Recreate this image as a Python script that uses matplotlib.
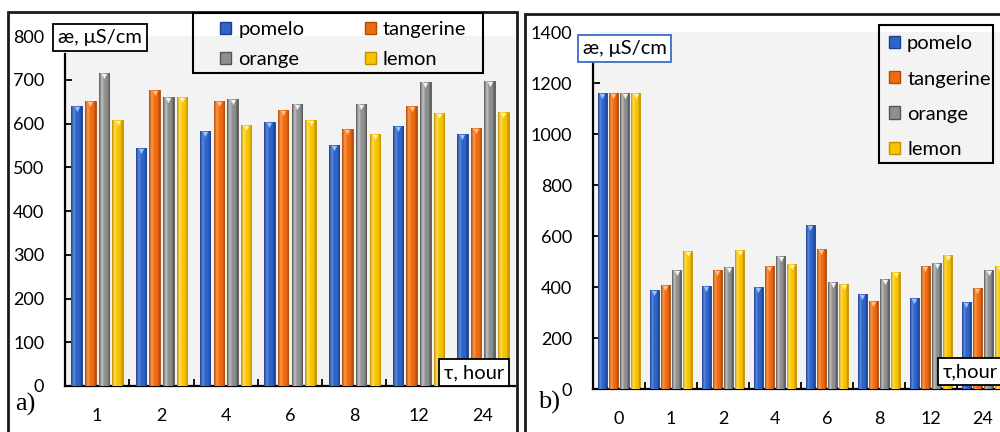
import matplotlib.pyplot as plt
import matplotlib.transforms as mtransforms
import numpy as np
from matplotlib.colors import LinearSegmentedColormap
from matplotlib.patches import Patch, Rectangle

plt.rcParams['font.family'] = ['Lato', 'DejaVu Sans']
plt.rcParams['font.size'] = 13

fruits = ['pomelo', 'tangerine', 'orange', 'lemon']

# conductivity, uS/cm
hours_a = ['1', '2', '4', '6', '8', '12', '24']
pomelo_a = [640, 545, 584, 604, 552, 594, 575]
tangerine_a = [652, 676, 652, 632, 587, 639, 590]
orange_a = [715, 660, 655, 644, 644, 694, 697]
lemon_a = [607, 660, 597, 607, 577, 625, 627]

hours_b = ['0', '1', '2', '4', '6', '8', '12', '24']
pomelo_b = [1160, 390, 404, 400, 645, 371, 356, 341]
tangerine_b = [1160, 409, 465, 481, 551, 347, 481, 397]
orange_b = [1160, 465, 477, 521, 420, 433, 494, 465]
lemon_b = [1160, 543, 547, 490, 413, 460, 526, 483]

base = ['#2f64c8', '#ef6b12', '#8f8f8f', '#f7c400']
dark = ['#1b3f8c', '#b04a06', '#555555', '#c28f00']
light = ['#5b8ae0', '#f99a4c', '#c4c4c4', '#ffe05a']
tip = ['#9fc0f5', '#ffc08a', '#f2f2f2', '#fff2a8']

BIG = 14.5

fig = plt.figure(figsize=(10, 4.32), dpi=100)


def shade_bars(ax, bars, k):
    cmap = LinearSegmentedColormap.from_list(
        'b%d' % k, [dark[k], light[k], base[k], base[k], dark[k]])
    grad = np.linspace(0, 1, 64).reshape(1, -1)
    for b in bars:
        x, w, h = b.get_x(), b.get_width(), b.get_height()
        im = ax.imshow(grad, cmap=cmap, extent=[x, x + w, 0, h],
                       aspect='auto', zorder=3, interpolation='bilinear')
        im.set_clip_path(b)


def panel(rect, hours, series, ymax, ystep, spine_top):
    ax = fig.add_axes(rect)
    ax.set_facecolor('#f3f3f3')
    x = np.arange(len(hours))
    pitch, width = 0.213, 0.163
    # little bevel triangle just under each bar top
    down = ax.transData + mtransforms.ScaledTranslation(0, -3 / 100,
                                                        fig.dpi_scale_trans)
    for k, vals in enumerate(series):
        xs = x + (k - 1.5) * pitch
        bars = ax.bar(xs, vals, width, color=base[k],
                      edgecolor=dark[k], linewidth=0.6, zorder=2)
        shade_bars(ax, bars, k)
        ax.scatter(xs, vals, marker='v', s=14, color=tip[k], linewidths=0,
                   zorder=4, transform=down)
    ax.set_xlim(-0.5, len(hours) - 0.5)
    ax.set_ylim(0, ymax)
    ax.set_yticks(np.arange(0, ymax + 1, ystep))
    ax.set_xticks(x)
    ax.set_xticklabels(hours)
    ax.set_xticks(np.arange(0.5, len(hours) - 0.5), minor=True)
    ax.tick_params(axis='x', which='major', length=0, pad=16)
    ax.tick_params(axis='x', which='minor', direction='in', length=5, width=1.3)
    ax.tick_params(axis='y', direction='in', length=5, width=1.3, pad=15)
    # top tick sits above the shortened spine
    ax.yaxis.get_major_ticks()[-1].tick1line.set_visible(False)
    for s in ['top', 'right']:
        ax.spines[s].set_visible(False)
    ax.spines['left'].set_linewidth(1.6)
    ax.spines['bottom'].set_linewidth(1.6)
    ax.spines['left'].set_bounds(0, spine_top)
    return ax


panel([0.065, 0.1065, 0.45, 0.810], hours_a,
      [pomelo_a, tangerine_a, orange_a, lemon_a], 800, 100, 760)
panel([0.593, 0.0995, 0.416, 0.8264], hours_b,
      [pomelo_b, tangerine_b, orange_b, lemon_b], 1400, 200, 1310)


def frame(x0, y0, w, h, ec='#1a1a1a', lw=2):
    fig.patches.append(Rectangle((x0, y0), w, h, fill=False, edgecolor=ec,
                                 linewidth=lw, transform=fig.transFigure,
                                 zorder=5))


# panel frames
frame(0.008, -0.05, 0.509, 1.022)
frame(0.525, -0.05, 0.48, 1.018)

# axis title boxes
fig.text(0.100, 0.914, 'æ, μS/cm', ha='center', va='center', fontsize=BIG,
         bbox=dict(boxstyle='square,pad=0.25', fc='white', ec='black', lw=1.3))
fig.text(0.6245, 0.888, 'æ, μS/cm', ha='center', va='center', fontsize=BIG,
         bbox=dict(boxstyle='square,pad=0.25', fc='white', ec='#3a6cc8', lw=1.3))
fig.text(0.474, 0.137, 'τ, hour', ha='center', va='center', fontsize=BIG,
         bbox=dict(boxstyle='square,pad=0.25', fc='white', ec='black', lw=1.3))
fig.text(0.943, 0.139, 'τ,hour', ha='left', va='center', fontsize=BIG,
         bbox=dict(boxstyle='square,pad=0.25', fc='white', ec='black', lw=1.3))

fig.text(0.025, 0.063, 'a)', ha='center', va='center', fontsize=19,
         family='Liberation Serif')
fig.text(0.549, 0.068, 'b)', ha='center', va='center', fontsize=19,
         family='Liberation Serif')

handles = [Patch(facecolor=base[k], edgecolor=dark[k], label=f)
           for k, f in enumerate(fruits)]
leg_kw = dict(loc='upper left', frameon=False, fontsize=BIG,
              handlelength=0.55, handleheight=0.55, handletextpad=0.35,
              borderpad=0, borderaxespad=0)

# two-column legend: row 1 pomelo/tangerine, row 2 orange/lemon
fig.legend(handles=[handles[i] for i in (0, 2, 1, 3)], ncol=2,
           bbox_to_anchor=(0.220, 0.951), columnspacing=3.0,
           labelspacing=0.65, **leg_kw)
frame(0.193, 1 - 73 / 432, 0.290, 60 / 432, ec='black', lw=1.5)

fig.legend(handles=handles, ncol=1, bbox_to_anchor=(0.889, 0.918),
           labelspacing=0.9, **leg_kw)
frame(0.879, 1 - 163 / 432, 0.114, 138 / 432, ec='black', lw=1.5)

fig.savefig('out.png', dpi=100)
